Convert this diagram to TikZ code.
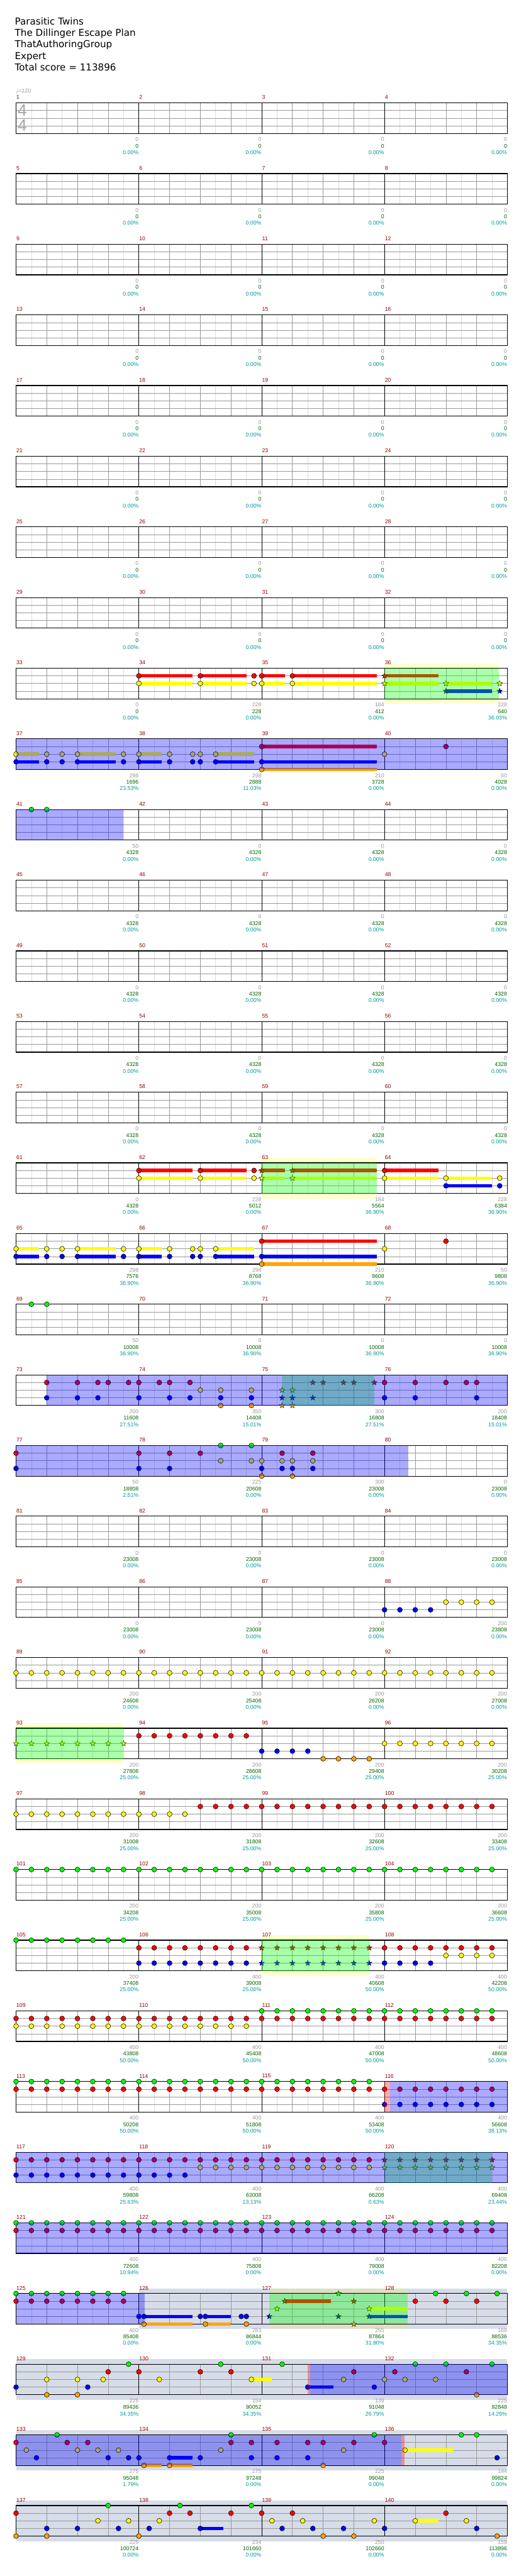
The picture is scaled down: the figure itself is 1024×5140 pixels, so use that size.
\documentclass[tikz,border=0pt]{standalone}
\usepackage{fontspec}
\usepackage{xcolor}
\usepackage{tikz}
\usetikzlibrary{arrows.meta, positioning}
\newfontfamily\headfont{DejaVu Sans}
\newfontfamily\labfont{Liberation Sans}

\definecolor{lanegreen}{HTML}{00FF00}
\definecolor{lanered}{HTML}{FF0000}
\definecolor{laneyellow}{HTML}{FFFF00}
\definecolor{laneblue}{HTML}{0000FF}
\definecolor{laneorange}{HTML}{FFA500}
\definecolor{barred}{HTML}{990000}
\definecolor{gaingray}{HTML}{999999}
\definecolor{totgreen}{HTML}{006600}
\definecolor{pctteal}{HTML}{009999}
\definecolor{gridmid}{HTML}{999999}
\definecolor{gridlight}{HTML}{DDDDDD}
\definecolor{haloyellow}{HTML}{FFFFCC}
\definecolor{haloolive}{HTML}{DDE0C2}
\definecolor{hazeblue}{HTML}{D6DCE8}

\tikzset{
  rowat/.style={shift={(32,{205.3+141*#1})}, x=30.625pt, y=-15.25pt},
  notebox/.style={draw=black, line width=0.7pt},
  starbox/.style={draw=black, line width=0.5pt},
  eighthline/.style={draw=gridlight, line width=0.8pt},
  beatline/.style={draw=gridmid, line width=0.8pt},
  barline/.style={draw=black, line width=0.8pt},
  staffframe/.style={draw=black, line width=1.5pt},
  phrasefill/.style={fill=lanegreen, fill opacity=0.333},
  activefill/.style={fill=laneblue, fill opacity=0.333},
  squeezefill/.style={fill=lanered, fill opacity=0.333},
  chartfont/.style={font=\labfont\fontsize{11}{11}\selectfont, inner sep=0.5pt},
  barnum/.style={chartfont, text=barred, anchor=west},
  gainlab/.style={chartfont, text=gaingray, anchor=east},
  totlab/.style={chartfont, text=totgreen, anchor=east},
  pctlab/.style={chartfont, text=pctteal, anchor=east},
  headline/.style={font=\headfont\fontsize{19}{23}\selectfont, anchor=base west, inner sep=0pt},
  timesig/.style={font=\labfont\fontsize{33}{33}\selectfont, text=black!35, inner sep=0pt},
}

% staff lines of one row of four bars
\newcommand{\chartgrid}{%
  \foreach \i in {1,3,...,31} \draw[eighthline] (\i,0) -- (\i,4);
  \foreach \i in {2,4,6,10,12,14,18,20,22,26,28,30} \draw[beatline] (\i,0) -- (\i,4);
  \foreach \j in {1,2,3} \draw[beatline] (0,\j) -- (32,\j);
  \foreach \i in {8,16,24} \draw[barline] (\i,0) -- (\i,4);
  \draw[staffframe] (0,0) rectangle (32,4);}
\newcommand{\chartbg}[2]{\fill[hazeblue] ([yshift=10pt]#1,0) rectangle ([yshift=-10pt]#2,4);}
\newcommand{\charthalo}[3]{\fill[#3] ([yshift=10pt]#1,0) rectangle (#2,0);
  \fill[#3] (#1,4) rectangle ([yshift=-10pt]#2,4);}
\newcommand{\chartzone}[3]{\fill[#1] (#2,0) rectangle (#3,4);}
\newcommand{\chartholds}[3]{\foreach \ha/\hb in {#3} \draw[line width=7pt, #2] (\ha,#1) -- (\hb,#1);}
\newcommand{\chartnotes}[3]{\foreach \i in {#3} \draw[notebox, fill=#2] (\i,#1) circle[radius=4.9pt];}
\newcommand{\chartstars}[3]{\foreach \i in {#3} \draw[starbox, fill=#2] (\i,#1)
  +(90:5.8pt) -- +(126:2.4pt) -- +(162:5.8pt) -- +(198:2.4pt) -- +(234:5.8pt) -- +(270:2.4pt)
  -- +(306:5.8pt) -- +(342:2.4pt) -- +(18:5.8pt) -- +(54:2.4pt) -- cycle;}
\newcommand{\chartlabels}[2]{%
  \foreach \lg/\ls/\lp [count=\k from 0] in {#2} {%
    \pgfmathtruncatemacro{\m}{#1+\k}
    \node[barnum] (bar\m) at ([yshift=11pt]8*\k,0) {\m};
    \node[gainlab] (gain\m) at ([yshift=-12pt]8*\k+8,4) {\lg};
    \node[totlab] (tot\m) at ([yshift=-25pt]8*\k+8,4) {\ls};
    \node[pctlab] (pct\m) at ([yshift=-38pt]8*\k+8,4) {\lp\%};
  }}

\begin{document}
\begin{tikzpicture}[x=1pt, y=-1pt]
    \useasboundingbox[fill=white] (0,0) rectangle (1024,5140);

    % Song header
    \foreach \t [count=\n] in {Parasitic Twins, The Dillinger Escape Plan, ThatAuthoringGroup, Expert, Total score = 113896}
      \node[headline] (head\n) at (29.5, 26.3+23*\n) {\t};

    % Tempo and time signature
    \node[chartfont, text=gaingray, anchor=west] (tempo) at (31,181) {{\headfont ♩}=120};
    \node[timesig] (sigtop) at (44.5,220.5) {4};
    \node[timesig] (sigbot) at (44.5,250) {4};

    % Bars 1-32: empty
    \foreach \r in {0,...,7} {
      \begin{scope}[rowat=\r]
        \chartgrid
        \pgfmathtruncatemacro{\first}{4*\r+1}
        \chartlabels{\first}{0/0/0.00,0/0/0.00,0/0/0.00,0/0/0.00}
      \end{scope}
    }

    % Bars 33-36
    \begin{scope}[rowat=8]
      \charthalo{24}{31.45}{haloyellow}
      \chartgrid
      \chartholds{1}{lanered}{8/11.5,12/15,16/17.5,18/23.5,24/27.5}
      \chartholds{2}{laneyellow}{8/11.5,12/15,16/17.5,18/23.5,24/27.5,28/31}
      \chartholds{3}{laneblue}{28/31}
      \chartnotes{1}{lanered}{8,12,15.5,16,18}
      \chartnotes{2}{laneyellow}{8,12,15.5,16,18}
      \chartstars{1}{lanered}{24}
      \chartstars{2}{laneyellow}{24,28,31.5}
      \chartstars{3}{laneblue}{28,31.5}
      \chartzone{phrasefill}{24}{31.45}
      \chartlabels{33}{0/0/0.00,228/228/0.00,184/412/0.00,228/640/36.03}
    \end{scope}

    % Bars 37-40
    \begin{scope}[rowat=9]
      \chartgrid
      \chartholds{2}{laneyellow}{0/1.5,4/6.5,8/9.5,13/15.5}
      \chartholds{3}{laneblue}{0/1.5,4/6.5,8/9.5,13/15.5,16/23.5}
      \chartholds{1}{lanered}{16/23.5}
      \chartholds{4}{laneorange}{16/23.5}
      \chartnotes{1}{lanered}{16,28}
      \chartnotes{2}{laneyellow}{0,2,3,4,7,8,10,11.5,12,13,24}
      \chartnotes{3}{laneblue}{0,2,3,4,7,8,10,11.5,12,13,16}
      \chartnotes{4}{laneorange}{16}
      \chartzone{activefill}{0}{32}
      \chartlabels{37}{298/1696/23.53,298/2888/11.03,210/3728/0.00,50/4028/0.00}
    \end{scope}

    % Bars 41-44
    \begin{scope}[rowat=10]
      \chartgrid
      \chartnotes{0}{lanegreen}{1,2}
      \chartzone{activefill}{0}{7}
      \chartlabels{41}{50/4328/0.00,0/4328/0.00,0/4328/0.00,0/4328/0.00}
    \end{scope}

    % Bars 45-60: empty
    \foreach \r in {11,...,14} {
      \begin{scope}[rowat=\r]
        \chartgrid
        \pgfmathtruncatemacro{\first}{4*\r+1}
        \chartlabels{\first}{0/4328/0.00,0/4328/0.00,0/4328/0.00,0/4328/0.00}
      \end{scope}
    }

    % Bars 61-64
    \begin{scope}[rowat=15]
      \charthalo{16}{23.5}{haloyellow}
      \chartgrid
      \chartholds{1}{lanered}{8/11.5,12/15,16/17.5,18/23.5,24/27.5}
      \chartholds{2}{laneyellow}{8/11.5,12/15,16/17.5,18/23.5,24/27.5,28/31}
      \chartholds{3}{laneblue}{28/31}
      \chartnotes{1}{lanered}{8,12,15.5,24}
      \chartnotes{2}{laneyellow}{8,12,15.5,24,28,31.5}
      \chartnotes{3}{laneblue}{28,31.5}
      \chartstars{1}{lanered}{16,18}
      \chartstars{2}{laneyellow}{16,18}
      \chartzone{phrasefill}{16}{23.5}
      \chartlabels{61}{0/4328/0.00,228/5012/0.00,184/5564/36.90,228/6384/36.90}
    \end{scope}

    % Bars 65-68
    \begin{scope}[rowat=16]
      \chartgrid
      \chartholds{2}{laneyellow}{0/1.5,4/6.5,8/9.5,13/15.5}
      \chartholds{3}{laneblue}{0/1.5,4/6.5,8/9.5,13/15.5,16/23.5}
      \chartholds{1}{lanered}{16/23.5}
      \chartholds{4}{laneorange}{16/23.5}
      \chartnotes{1}{lanered}{16,28}
      \chartnotes{2}{laneyellow}{0,2,3,4,7,8,10,11.5,12,13,24}
      \chartnotes{3}{laneblue}{0,2,3,4,7,8,10,11.5,12,13,16}
      \chartnotes{4}{laneorange}{16}
      \chartlabels{65}{298/7576/36.90,298/8768/36.90,210/9608/36.90,50/9808/36.90}
    \end{scope}

    % Bars 69-72
    \begin{scope}[rowat=17]
      \chartgrid
      \chartnotes{0}{lanegreen}{1,2}
      \chartlabels{69}{50/10008/36.90,0/10008/36.90,0/10008/36.90,0/10008/36.90}
    \end{scope}

    % Bars 73-76
    \begin{scope}[rowat=18]
      \chartgrid
      \chartnotes{1}{lanered}{2,4,5.33,6,7.33,8,9.33,10,11.33,24,26,28,29.33,30}
      \chartstars{1}{lanered}{19.33,20,21.33,22,23.33}
      \chartnotes{2}{laneyellow}{12,13.33,15.33}
      \chartstars{2}{laneyellow}{17.33,18}
      \chartnotes{3}{laneblue}{2,4,5.33,8,10,11.33,13.33,15.33,24,26,30}
      \chartstars{3}{laneblue}{17.33,18,19.33}
      \chartnotes{4}{laneorange}{13.33,15.33}
      \chartstars{4}{laneorange}{17.33,18}
      \chartzone{phrasefill}{17.33}{23.33}
      \chartzone{activefill}{2}{32}
      \chartlabels{73}{200/11608/27.51,350/14408/15.01,300/16808/27.51,200/18408/15.01}
    \end{scope}

    % Bars 77-80
    \begin{scope}[rowat=19]
      \chartgrid
      \chartnotes{0}{lanegreen}{13.33,15.33}
      \chartnotes{1}{lanered}{0,8,10,12,17.33,19.33}
      \chartnotes{2}{laneyellow}{13.33,15.33,16,17.33,18,19.33}
      \chartnotes{3}{laneblue}{0,8,10,16,17.33,18,19.33}
      \chartnotes{4}{laneorange}{16,18}
      \chartzone{activefill}{0}{25.55}
      \chartlabels{77}{50/18808/2.51,225/20608/0.00,300/23008/0.00,0/23008/0.00}
    \end{scope}

    % Bars 81-84
    \begin{scope}[rowat=20]
      \chartgrid
      \chartlabels{81}{0/23008/0.00,0/23008/0.00,0/23008/0.00,0/23008/0.00}
    \end{scope}

    % Bars 85-88
    \begin{scope}[rowat=21]
      \chartgrid
      \chartnotes{3}{laneblue}{24,25,26,27}
      \chartnotes{2}{laneyellow}{28,29,30,31}
      \chartlabels{85}{0/23008/0.00,0/23008/0.00,0/23008/0.00,200/23808/0.00}
    \end{scope}

    % Bars 89-92
    \begin{scope}[rowat=22]
      \chartgrid
      \chartnotes{2}{laneyellow}{0,...,31}
      \chartlabels{89}{200/24608/0.00,200/25408/0.00,200/26208/0.00,200/27008/0.00}
    \end{scope}

    % Bars 93-96
    \begin{scope}[rowat=23]
      \charthalo{0}{7}{haloyellow}
      \chartgrid
      \chartstars{2}{laneyellow}{0,...,7}
      \chartnotes{1}{lanered}{8,...,15}
      \chartnotes{3}{laneblue}{16,...,19}
      \chartnotes{4}{laneorange}{20,...,23}
      \chartnotes{2}{laneyellow}{24,...,31}
      \chartzone{phrasefill}{0}{7}
      \chartlabels{93}{200/27808/25.00,200/28608/25.00,200/29408/25.00,200/30208/25.00}
    \end{scope}

    % Bars 97-100
    \begin{scope}[rowat=24]
      \chartgrid
      \chartnotes{2}{laneyellow}{0,...,11}
      \chartnotes{1}{lanered}{12,...,31}
      \chartlabels{97}{200/31008/25.00,200/31808/25.00,200/32608/25.00,200/33408/25.00}
    \end{scope}

    % Bars 101-104
    \begin{scope}[rowat=25]
      \chartgrid
      \chartnotes{0}{lanegreen}{0,...,31}
      \chartlabels{101}{200/34208/25.00,200/35008/25.00,200/35808/25.00,200/36608/25.00}
    \end{scope}

    % Bars 105-108
    \begin{scope}[rowat=26]
      \charthalo{16}{23}{haloyellow}
      \chartgrid
      \chartnotes{0}{lanegreen}{0,...,7}
      \chartnotes{1}{lanered}{8,...,15,24,25,26,27,28,29,30,31}
      \chartstars{1}{lanered}{16,...,23}
      \chartnotes{3}{laneblue}{8,...,15,24,25,26,27}
      \chartstars{3}{laneblue}{16,...,23}
      \chartnotes{2}{laneyellow}{28,29,30,31}
      \chartzone{phrasefill}{16}{23}
      \chartlabels{105}{200/37408/25.00,400/39008/25.00,400/40608/50.00,400/42208/50.00}
    \end{scope}

    % Bars 109-112
    \begin{scope}[rowat=27]
      \chartgrid
      \chartnotes{1}{lanered}{0,...,31}
      \chartnotes{2}{laneyellow}{0,...,15}
      \chartnotes{0}{lanegreen}{16,...,31}
      \chartlabels{109}{400/43808/50.00,400/45408/50.00,400/47008/50.00,400/48608/50.00}
    \end{scope}

    % Bars 113-116
    \begin{scope}[rowat=28]
      \chartgrid
      \chartnotes{0}{lanegreen}{0,...,23}
      \chartnotes{1}{lanered}{0,...,31}
      \chartnotes{3}{laneblue}{24,...,31}
      \chartzone{squeezefill}{24}{24.36}
      \chartzone{activefill}{24.36}{32}
      \chartlabels{113}{400/50208/50.00,400/51808/50.00,400/53408/50.00,400/56608/38.13}
    \end{scope}

    % Bars 117-120
    \begin{scope}[rowat=29]
      \chartgrid
      \chartnotes{1}{lanered}{0,...,23}
      \chartstars{1}{lanered}{24,...,31}
      \chartnotes{2}{laneyellow}{12,...,23}
      \chartstars{2}{laneyellow}{24,...,31}
      \chartnotes{3}{laneblue}{0,...,11}
      \chartzone{phrasefill}{24}{31}
      \chartzone{activefill}{0}{32}
      \chartlabels{117}{400/59808/25.63,400/63008/13.13,400/66208/0.63,400/69408/23.44}
    \end{scope}

    % Bars 121-124
    \begin{scope}[rowat=30]
      \chartgrid
      \chartnotes{0}{lanegreen}{0,...,31}
      \chartnotes{1}{lanered}{0,...,31}
      \chartzone{activefill}{0}{32}
      \chartlabels{121}{400/72608/10.94,400/75808/0.00,400/79008/0.00,400/82208/0.00}
    \end{scope}

    % Bars 125-128
    \begin{scope}[rowat=31]
      \chartbg{8}{32}
      \charthalo{16.5}{25.5}{haloolive}
      \chartgrid
      \chartholds{1}{lanered}{17.5/20.5}
      \chartholds{2}{laneyellow}{23/25.5}
      \chartholds{3}{laneblue}{8.33/11.5,12.33/14,23/25.5}
      \chartholds{4}{laneorange}{8.33/11.5,12.33/14}
      \chartnotes{0}{lanegreen}{0,...,7,27.33,29.33,31.33}
      \chartstars{0}{lanegreen}{21}
      \chartnotes{1}{lanered}{0,...,7,26,28,30}
      \chartstars{1}{lanered}{17.5,22}
      \chartstars{2}{laneyellow}{17,23}
      \chartnotes{3}{laneblue}{8,8.33,12,12.33,14.67,15}
      \chartstars{3}{laneblue}{16.5,21,23}
      \chartnotes{4}{laneorange}{8.33,12.33,15}
      \chartstars{4}{laneorange}{22}
      \chartzone{phrasefill}{16.5}{25.5}
      \chartzone{activefill}{0}{8.36}
      \chartlabels{125}{400/85408/0.00,283/86844/0.00,255/87864/31.80,168/88536/34.35}
    \end{scope}

    % Bars 129-132
    \begin{scope}[rowat=32]
      \chartbg{0}{32}
      \chartgrid
      \chartholds{2}{laneyellow}{15.33/16.67}
      \chartholds{3}{laneblue}{19/20.67}
      \chartnotes{0}{lanegreen}{7.33,13.33,17.33,26,28,31}
      \chartnotes{1}{lanered}{6,8,12,14,22,24.67,29.33}
      \chartnotes{2}{laneyellow}{2,4,5.67,9.33,15.33,21.33,24,25.33,27.33}
      \chartnotes{3}{laneblue}{0,4.67,19,23.33}
      \chartnotes{4}{laneorange}{2,4,30}
      \chartzone{squeezefill}{19}{19.15}
      \chartzone{activefill}{19.15}{32}
      \chartlabels{129}{225/89436/34.35,154/90052/34.35,139/91048/26.79,225/92848/14.29}
    \end{scope}

    % Bars 133-136
    \begin{scope}[rowat=33]
      \chartbg{0}{32}
      \chartgrid
      \chartholds{2}{laneyellow}{25.33/28.5}
      \chartholds{3}{laneblue}{10/11.5}
      \chartholds{4}{laneorange}{8.33/9.5,10/11.5}
      \chartnotes{0}{lanegreen}{2.67,14,23.33,29,30}
      \chartnotes{1}{lanered}{0,3.33,4.67,14,15.33,17,19,20,22,24}
      \chartnotes{2}{laneyellow}{0.67,4,5.33,6.67,13.33,21.33,25.33}
      \chartnotes{3}{laneblue}{1.33,6,7.33,8,10,12,15.33,17,19,31.33}
      \chartnotes{4}{laneorange}{8.33,10,20}
      \chartzone{activefill}{0}{25.08}
      \chartzone{squeezefill}{25.08}{25.3}
      \chartlabels{133}{275/95048/1.79,275/97248/0.00,225/99048/0.00,144/99824/0.00}
    \end{scope}

    % Bars 137-140
    \begin{scope}[rowat=34]
      \chartbg{0}{32}
      \chartgrid
      \chartholds{2}{laneyellow}{26/27.5}
      \chartholds{3}{laneblue}{12/13.5}
      \chartnotes{0}{lanegreen}{6,10.67,15.33}
      \chartnotes{1}{lanered}{0,10,11.33,14,16,18,28}
      \chartnotes{2}{laneyellow}{5.33,7.33,9.33,16.67,18.67,23.33,26,29.33}
      \chartnotes{3}{laneblue}{2,4,6.67,8.67,12,17.33,19.33,21.33,24,30}
      \chartnotes{4}{laneorange}{0,2,8,20,22,31.33}
      \chartlabels{137}{225/100724/0.00,234/101660/0.00,250/102660/0.00,159/113896/0.00}
    \end{scope}
\end{tikzpicture}
\end{document}
